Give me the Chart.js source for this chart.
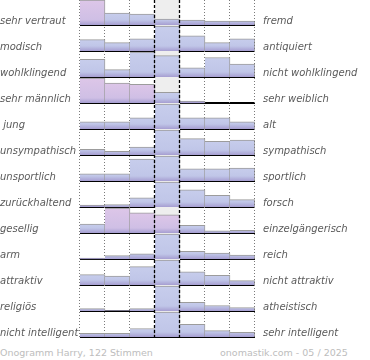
<!DOCTYPE html>
<html><head><meta charset="utf-8">
<script src="https://cdn.jsdelivr.net/npm/chart.js@4/dist/chart.umd.min.js"></script>
<style>
html,body{margin:0;padding:0;background:#fff;}
#wrap{position:absolute;left:0;top:0;width:370px;height:342px;}
.foot{position:absolute;top:347px;font:9.5px "DejaVu Sans",sans-serif;color:#bdbdbd;white-space:nowrap;line-height:11px;}
</style></head><body>
<div id="wrap"><canvas id="c"></canvas></div>
<div class="foot" style="left:0">Onogramm Harry, 122 Stimmen</div>
<div class="foot" style="left:220px">onomastik.com - 05 / 2025</div>
<script>
// ---- data ----
const leftLabels = ['sehr vertraut','modisch','wohlklingend','sehr männlich',' jung','unsympathisch','unsportlich','zurückhaltend','gesellig','arm','attraktiv','religiös','nicht intelligent'];
const rightLabels = ['fremd','antiquiert','nicht wohlklingend','sehr weiblich','alt','sympathisch','sportlich','forsch','einzelgängerisch','reich','nicht attraktiv','atheistisch','sehr intelligent'];
const scaleSteps = ['1','2','3','4','5','6','7'];
// estimated votes per scale step (122 votes per row)
const votes = [
  [46,22,20,11, 9, 7, 7],   // sehr vertraut – fremd
  [15,11,16,33,20,11,16],   // modisch – antiquiert
  [19, 8,27,23,10,21,14],   // wohlklingend – nicht wohlklingend
  [40,32,30,17, 3, 0, 0],   // sehr männlich – sehr weiblich
  [11,11,17,38,17,17,11],   // jung – alt
  [ 8, 5,11,35,23,19,21],   // unsympathisch – sympathisch
  [ 9, 9,27,31,15,15,16],   // unsportlich – sportlich
  [ 3, 4,15,41,28,19,12],   // zurückhaltend – forsch
  [13,36,29,26,11, 3, 4],   // gesellig – einzelgängerisch
  [ 2, 8,12,59,18,14, 9],   // arm – reich
  [14,12,25,34,18,13, 6],   // attraktiv – nicht attraktiv
  [ 6, 1, 6,64,22,14, 9],   // religiös – atheistisch
  [ 7, 7,16,47,24,12, 9]    // nicht intelligent – sehr intelligent
];

// ---- styling ----
const ROW_FILL = 25 / 26;
const pinkBars = {0:[0], 3:[0,1,2], 8:[1,2,3]};
const LABEL_OFFSET = 0.86;

function barFill(c) {
  const chart = c.chart;
  const pink = (pinkBars[c.datasetIndex] || []).includes(c.dataIndex);
  const top = pink ? '#ddc6e8' : '#c7cdec';
  const mid = pink ? '#cfbfe5' : '#c0c6e8';
  const bot = '#a69ed1';
  if (!chart.chartArea || c.type !== 'data' || !c.raw) return mid;
  const y = chart.scales.y;
  const yB = y.getPixelForValue(c.raw[0]);
  const yT = y.getPixelForValue(c.raw[1]);
  const h = yB - yT;
  if (h < 2) return bot;
  const g = chart.ctx.createLinearGradient(0, yT, 0, yB);
  g.addColorStop(0, top);
  g.addColorStop(Math.max(0, 1 - 5 / h), mid);
  g.addColorStop(1, bot);
  return g;
}

const datasets = votes.map((row, r) => {
  const mx = Math.max(...row);
  return {
    label: leftLabels[r],
    data: row.map(v => [r + 1, r + 1 - v / mx * ROW_FILL]),
    yAxisID: 'y',
    grouped: false,
    categoryPercentage: 1,
    barPercentage: 1,
    backgroundColor: barFill,
    borderColor: '#9c9c9c',
    borderWidth: {top: 1, right: 1, left: 0, bottom: 0},
    borderSkipped: false
  };
});

const columnGuides = {
  id: 'columnGuides',
  _edge(chart, k) {
    const x = chart.scales.x;
    const w = x.getPixelForValue(1) - x.getPixelForValue(0);
    return x.getPixelForValue(0) - w / 2 + k * w;
  },
  _line(ctx, a, px) {
    ctx.beginPath();
    ctx.moveTo(px, a.top);
    ctx.lineTo(px, a.bottom + 2);
    ctx.stroke();
  },
  beforeDatasetsDraw(chart) {
    const {ctx, chartArea: a} = chart;
    const e3 = this._edge(chart, 3), e4 = this._edge(chart, 4);
    ctx.save();
    ctx.fillStyle = '#eeeeee';
    ctx.fillRect(e3, a.top, e4 - e3, a.bottom - a.top);
    ctx.strokeStyle = '#7a7a7a';
    ctx.lineWidth = 1;
    ctx.setLineDash([1, 2]);
    [1, 2, 5, 6].forEach(k => this._line(ctx, a, Math.round(this._edge(chart, k)) - 0.5));
    ctx.restore();
  },
  afterDatasetsDraw(chart) {
    const {ctx, chartArea: a} = chart;
    ctx.save();
    ctx.strokeStyle = '#7a7a7a';
    ctx.lineWidth = 1;
    ctx.setLineDash([1, 2]);
    [0, 7].forEach(k => this._line(ctx, a, Math.round(this._edge(chart, k)) - 0.5));
    ctx.strokeStyle = '#000';
    ctx.lineWidth = 1.3;
    ctx.setLineDash([3, 2]);
    [3, 4].forEach(k => this._line(ctx, a, Math.round(this._edge(chart, k)) - 0.5));
    ctx.restore();
  }
};

const labelFont = {family: '"DejaVu Sans", sans-serif', size: 10, style: 'italic'};
const sideAxis = (pos, labels, width, extra) => Object.assign({
  type: 'linear', position: pos, min: 0.04, max: labels.length, reverse: true,
  grid: {display: false, drawTicks: false}, border: {display: false},
  afterBuildTicks: s => { s.ticks = labels.map((_, i) => ({value: i + LABEL_OFFSET})); },
  afterFit: s => { s.width = width; s.paddingTop = 0; s.paddingBottom = 0; },
  ticks: {autoSkip: false, color: '#5a5a5a', font: labelFont, padding: 8,
          callback: (v, i) => labels[i]}
}, extra);

new Chart(document.getElementById('c'), {
  type: 'bar',
  data: {labels: scaleSteps, datasets},
  plugins: [columnGuides],
  options: {
    responsive: true, maintainAspectRatio: false, animation: false,
    layout: {padding: 0},
    plugins: {legend: {display: false}, tooltip: {enabled: false}},
    scales: {
      x: {
        grid: {display: false, drawTicks: false}, border: {display: false},
        ticks: {display: false},
        afterFit: s => { s.height = 5; s.paddingLeft = 0; s.paddingRight = 0; }
      },
      y: {
        type: 'linear', position: 'left', min: 0.04, max: leftLabels.length, reverse: true, z: 1,
        afterBuildTicks: s => { s.ticks = leftLabels.map((_, i) => ({value: i + 1})); },
        afterFit: s => { s.width = 0; s.paddingTop = 0; s.paddingBottom = 0; },
        grid: {color: '#000', lineWidth: 2, drawTicks: false},
        border: {display: false},
        ticks: {display: false}
      },
      yl: sideAxis('left', leftLabels, 80, {ticks: {autoSkip: false, color: '#5a5a5a', font: labelFont, padding: 0, crossAlign: 'far', callback: (v, i) => leftLabels[i]}}),
      yr: sideAxis('right', rightLabels, 115, {})
    }
  }
});
</script>
</body></html>
